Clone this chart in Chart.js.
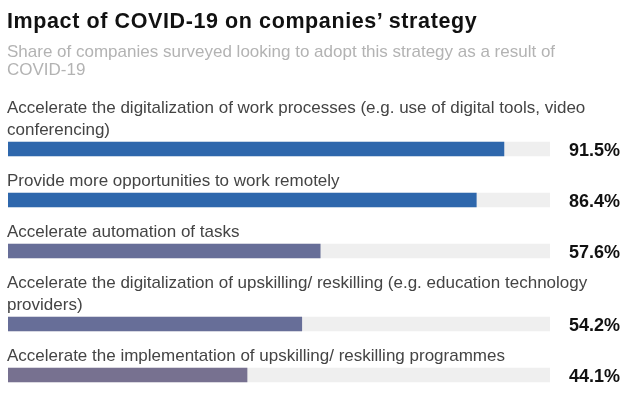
<!DOCTYPE html>
<html>
<head>
<meta charset="utf-8">
<script src="https://cdn.jsdelivr.net/npm/chart.js@4"></script>
<style>
  html, body { margin: 0; padding: 0; background: #fff; }
  #wrap { position: relative; width: 640px; height: 397px; overflow: hidden; }
  #chart-box { position: absolute; left: 0; top: 0; width: 640px; height: 397px; }
  .title { position: absolute; left: 7px; top: 10px; font: bold 21.5px "Liberation Sans", Arial, sans-serif; letter-spacing: 0.6px; line-height: 22px; color: #111; white-space: nowrap; }
  .subtitle { position: absolute; left: 7px; top: 43px; width: 570px; font: 17px "Liberation Sans", Arial, sans-serif; line-height: 18px; color: #b3b3b3; }
</style>
</head>
<body>
<div id="wrap">
  <div id="chart-box"><canvas id="c"></canvas></div>
  <div class="title">Impact of COVID-19 on companies’ strategy</div>
  <div class="subtitle">Share of companies surveyed looking to adopt this strategy as a result of<br>COVID-19</div>
</div>
<script>
// ---- data ----
const categories = [
  ["Accelerate the digitalization of work processes (e.g. use of digital tools, video", "conferencing)"],
  ["Provide more opportunities to work remotely"],
  ["Accelerate automation of tasks"],
  ["Accelerate the digitalization of upskilling/ reskilling (e.g. education technology", "providers)"],
  ["Accelerate the implementation of upskilling/ reskilling programmes"]
];
const values = [91.5, 86.4, 57.6, 54.2, 44.1];
const valueLabels = ["91.5%", "86.4%", "57.6%", "54.2%", "44.1%"];
const scaleMax = 100;

// ---- styles / layout constants ----
const barColors = ["#2e67ac", "#2e67ac", "#676e98", "#676e98", "#777190"];
const trackColor = "#efefef";
const LINE = 22, TEXT_TO_BAR = 7.5, BAR_H = 14, ROW_GAP = 43.5, FIRST_BASELINE = 112.5;

// compute vertical centres of the bar slots from the label line counts
const centers = [];
let baseline = FIRST_BASELINE;
categories.forEach(lines => {
  const barTop = Math.round(baseline + LINE * (lines.length - 1) + TEXT_TO_BAR);
  centers.push(barTop + BAR_H / 2);
  baseline = barTop + ROW_GAP;
});

const labelPlugin = {
  id: 'rowLabels',
  afterDatasetsDraw(chart) {
    const ctx = chart.ctx;
    const ys = chart.scales.y;
    const left = chart.chartArea.left;
    ctx.save();
    categories.forEach((lines, i) => {
      const c = ys.getPixelForValue(centers[i]);
      const top = c - BAR_H / 2;
      ctx.font = '17px "Liberation Sans", Arial, sans-serif';
      ctx.fillStyle = '#444';
      ctx.textAlign = 'left';
      ctx.textBaseline = 'alphabetic';
      lines.forEach((ln, k) => {
        ctx.fillText(ln, left - 1, top - TEXT_TO_BAR - LINE * (lines.length - 1 - k));
      });
      ctx.font = 'bold 18px "Liberation Sans", Arial, sans-serif';
      ctx.fillStyle = '#111';
      ctx.textAlign = 'right';
      ctx.fillText(valueLabels[i], 620, c + BAR_H / 2);
    });
    ctx.restore();
  }
};

new Chart(document.getElementById('c'), {
  type: 'bar',
  data: {
    datasets: [
      {
        data: values.map((v, i) => ({ x: v, y: centers[i] })),
        backgroundColor: barColors,
        barThickness: BAR_H,
        grouped: false,
        order: 1,
        borderWidth: 0
      },
      {
        data: centers.map(c => ({ x: scaleMax, y: c })),
        backgroundColor: trackColor,
        barThickness: BAR_H,
        grouped: false,
        order: 2,
        borderWidth: 0
      }
    ]
  },
  options: {
    indexAxis: 'y',
    responsive: true,
    maintainAspectRatio: false,
    animation: false,
    events: [],
    layout: { padding: { left: 8, right: 90, top: 0, bottom: 0 } },
    scales: {
      x: { type: 'linear', min: 0, max: scaleMax, display: false, offset: false },
      y: { type: 'linear', min: 0, max: 397, reverse: true, display: false, offset: false }
    },
    plugins: { legend: { display: false }, tooltip: { enabled: false }, title: { display: false } }
  },
  plugins: [labelPlugin]
});
</script>
</body>
</html>
